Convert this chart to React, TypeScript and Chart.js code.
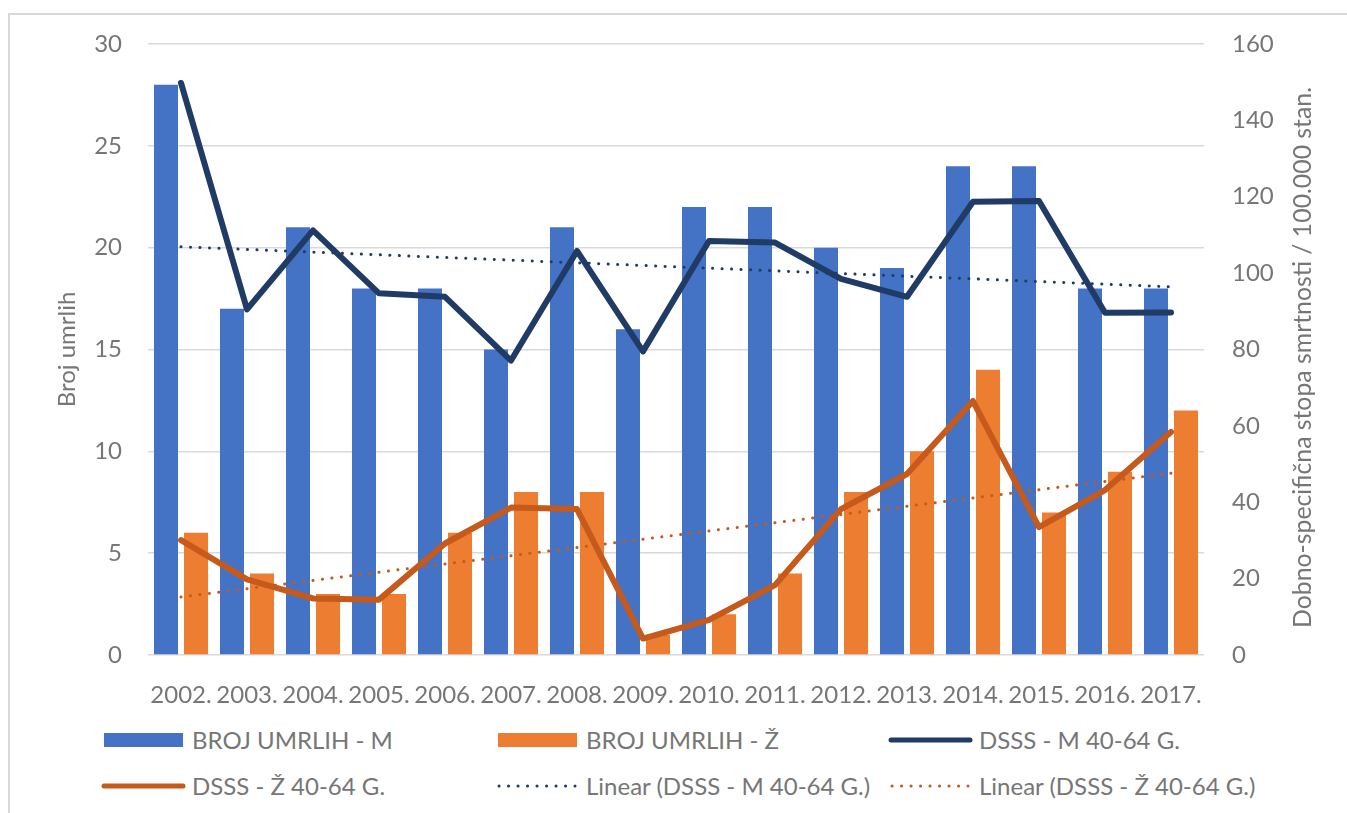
import React, { useEffect, useRef } from "react";
import { Chart, registerables } from "chart.js";

Chart.register(...registerables);

const years = ["2002.", "2003.", "2004.", "2005.", "2006.", "2007.", "2008.", "2009.", "2010.", "2011.", "2012.", "2013.", "2014.", "2015.", "2016.", "2017."];
const deathsM = [28, 17, 21, 18, 18, 15, 21, 16, 22, 22, 20, 19, 24, 24, 18, 18];
const deathsF = [6, 4, 3, 3, 6, 8, 8, 1, 2, 4, 8, 10, 14, 7, 9, 12];
const rateM = [149.8, 90.5, 111.2, 94.7, 93.8, 77.1, 105.8, 79.5, 108.4, 108.0, 98.5, 93.8, 118.7, 118.9, 89.6, 89.7];
const rateF = [30.1, 19.8, 14.8, 14.5, 29.2, 38.6, 38.2, 4.3, 9.2, 18.3, 38.2, 47.4, 66.5, 33.5, 43.2, 58.4];
const trendM = [106.9, null, null, null, null, null, null, null, null, null, null, null, null, null, null, 96.4];
const trendF = [15.2, null, null, null, null, null, null, null, null, null, null, null, null, null, null, 47.6];
const leftTicks = [0, 5, 10, 15, 20, 25, 30];
const rightTicks = [0, 20, 40, 60, 80, 100, 120, 140, 160];

const labelM = "BROJ UMRLIH - M";
const labelF = "BROJ UMRLIH - Ž";
const labelRateM = "DSSS - M 40-64 G.";
const labelRateF = "DSSS - Ž 40-64 G.";
const labelTrendM = "Linear (DSSS - M 40-64 G.)";
const labelTrendF = "Linear (DSSS - Ž 40-64 G.)";
const leftTitle = "Broj umrlih";
const rightTitle = "Dobno-specifična stopa smrtnosti / 100.000 stan.";

const BLUE = "#4472C4";
const ORANGE = "#ED7D31";
const NAVY = "#1F3B66";
const RUST = "#C55A1C";
const TEXT = "#767676";
const GRID = "#d9d9d9";
const FONT = "Lato, 'Open Sans', sans-serif";
const FS = 24;

const rightTitlePlugin = {
  id: "rightTitle",
  afterDraw(chart: any) {
    const { ctx, chartArea } = chart;
    const s = chart.scales.y2;
    ctx.save();
    ctx.translate(s.right - 44, (chartArea.top + chartArea.bottom) / 2 + 8);
    ctx.rotate(-Math.PI / 2);
    ctx.font = `24.8px ${FONT}`;
    ctx.fillStyle = TEXT;
    ctx.textAlign = "center";
    ctx.textBaseline = "middle";
    ctx.fillText(rightTitle, 0, 0);
    ctx.restore();
  },
};

function LegendItem(props: { left: number; top: number; kind: string; color: string; text: string }) {
  const { left, top, kind, color, text } = props;
  let icon: React.ReactNode;
  if (kind === "bar") {
    icon = <svg width={80} height={14} style={{ position: "absolute", left: 0, top: -7 }}><rect x={0} y={0} width={79} height={14} fill={color} /></svg>;
  } else if (kind === "line") {
    icon = <svg width={86} height={10} style={{ position: "absolute", left: -3, top: -5 }}><line x1={3} y1={5} x2={82} y2={5} stroke={color} strokeWidth={5} strokeLinecap="round" /></svg>;
  } else {
    icon = <svg width={86} height={10} style={{ position: "absolute", left: -3, top: -5 }}><line x1={4} y1={5} x2={80} y2={5} stroke={color} strokeWidth={3} strokeLinecap="round" strokeDasharray="0.1 9.4" /></svg>;
  }
  return (
    <div style={{ position: "absolute", left, top }}>
      {icon}
      <div style={{ position: "absolute", left: 88, top: -15, whiteSpace: "nowrap", font: `${FS}px ${FONT}`, color: TEXT, lineHeight: "30px" }}>{text}</div>
    </div>
  );
}

export default function App() {
  const ref = useRef<HTMLCanvasElement>(null);
  useEffect(() => {
    if (!ref.current) return;
    const chart = new Chart(ref.current, {
      type: "bar",
      data: {
        labels: years,
        datasets: [
          { type: "bar", label: labelM, data: deathsM, backgroundColor: BLUE, yAxisID: "y", order: 5, barPercentage: 0.8, categoryPercentage: 0.91 },
          { type: "bar", label: labelF, data: deathsF, backgroundColor: ORANGE, yAxisID: "y", order: 6, barPercentage: 0.8, categoryPercentage: 0.91 },
          { type: "line", label: labelRateM, data: rateM, borderColor: NAVY, borderWidth: 6, pointRadius: 0, yAxisID: "y2", order: 4, borderCapStyle: "round", borderJoinStyle: "round", tension: 0 },
          { type: "line", label: labelRateF, data: rateF, borderColor: RUST, borderWidth: 6, pointRadius: 0, yAxisID: "y2", order: 3, borderCapStyle: "round", borderJoinStyle: "round", tension: 0 },
          { type: "line", label: labelTrendM, data: trendM, borderColor: NAVY, borderWidth: 3, borderDash: [0.1, 9.4], borderCapStyle: "round", pointRadius: 0, spanGaps: true, yAxisID: "y2", order: 2 },
          { type: "line", label: labelTrendF, data: trendF, borderColor: RUST, borderWidth: 3, borderDash: [0.1, 9.4], borderCapStyle: "round", pointRadius: 0, spanGaps: true, yAxisID: "y2", order: 1 },
        ] as any,
      },
      options: {
        animation: false,
        responsive: true,
        maintainAspectRatio: false,
        layout: { padding: { left: 0, right: 0, top: 44, bottom: 0 } },
        plugins: { legend: { display: false }, tooltip: { enabled: false } },
        scales: {
          x: {
            grid: { display: false },
            border: { display: false },
            ticks: { color: TEXT, font: { family: FONT, size: FS }, padding: 18, maxRotation: 0, autoSkip: false },
            afterFit: (s: any) => { s.height = 65; },
          },
          y: {
            position: "left",
            min: 0,
            max: 30,
            afterBuildTicks: (s: any) => { s.ticks = leftTicks.map((v) => ({ value: v })); },
            grid: { color: GRID, lineWidth: 1.5, drawTicks: false },
            border: { display: false },
            ticks: { color: TEXT, font: { family: FONT, size: FS }, padding: 26 },
            title: { display: true, text: leftTitle, color: TEXT, font: { family: FONT, size: FS }, padding: { top: 53, bottom: 0 } },
            afterFit: (s: any) => { s.width = 148; },
          },
          y2: {
            position: "right",
            min: 0,
            max: 160,
            afterBuildTicks: (s: any) => { s.ticks = rightTicks.map((v) => ({ value: v })); },
            grid: { display: false, drawTicks: false },
            border: { display: false },
            ticks: { color: TEXT, font: { family: FONT, size: FS }, padding: 28 },
            afterFit: (s: any) => { s.width = 143; },
          },
        },
      } as any,
      plugins: [rightTitlePlugin],
    });
    return () => chart.destroy();
  }, []);

  return (
    <div style={{ position: "absolute", left: 0, top: 0, width: 1347, height: 813, background: "#fff", overflow: "hidden" }}>
      <div style={{ position: "absolute", left: 8, top: 13, width: 1400, height: 900, border: "2px solid #d9d9d9", boxSizing: "border-box" }} />
      <div style={{ position: "absolute", left: 0, top: 0, width: 1347, height: 720 }}>
        <canvas ref={ref} />
      </div>
      <LegendItem left={104} top={740} kind="bar" color={BLUE} text={labelM} />
      <LegendItem left={498} top={740} kind="bar" color={ORANGE} text={labelF} />
      <LegendItem left={891} top={740} kind="line" color={NAVY} text={labelRateM} />
      <LegendItem left={104} top={786} kind="line" color={RUST} text={labelRateF} />
      <LegendItem left={498} top={786} kind="dot" color={NAVY} text={labelTrendM} />
      <LegendItem left={891} top={786} kind="dot" color={RUST} text={labelTrendF} />
    </div>
  );
}
